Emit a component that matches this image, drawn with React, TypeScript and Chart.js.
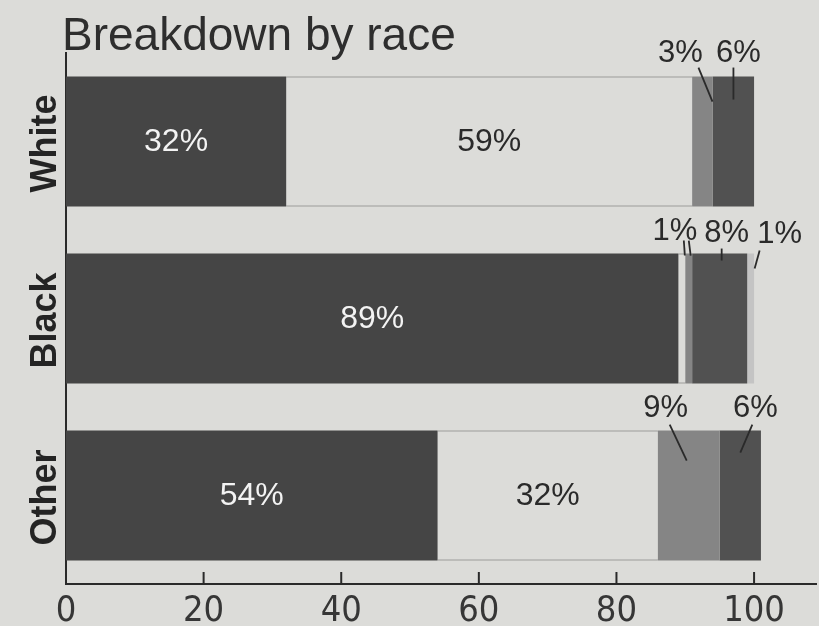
import React, { useEffect, useRef } from 'react';
import { Chart, registerables } from 'chart.js';

Chart.register(...registerables);

// ---- data ----
const chartTitle = 'Breakdown by race';
const categories = ['White', 'Black', 'Other'];
const seriesNames = ['Segment 1', 'Segment 2', 'Segment 3', 'Segment 4', 'Segment 5'];
const darkShare = [32, 89, 54];
const lightShare = [59, 1, 32];
const mediumShare = [3, 1, 9];
const mediumDarkShare = [6, 8, 6];
const endShare = [0, 1, 0];
const xTickValues = [0, 20, 40, 60, 80, 100];

// ---- styling / layout ----
const BG = '#dcdcd9';
const INK = '#2a2a2a';
const SANS = "'Liberation Sans', Arial, Helvetica, sans-serif";
const COND = "'DejaVu Sans Condensed', 'Liberation Sans Narrow', 'DejaVu Sans', sans-serif";
const seriesColors = ['#454545', BG, '#858585', '#515151', '#c4c4c4'];
const insideTextColor = ['#f3f3f3', '#2a2a2a', '#f3f3f3', '#f3f3f3', '#2a2a2a'];

// callouts for small segments: label offset from segment centre, and leader lines
type Line = { fromDx: number; fromDy: number; toDs: number; toDx: number; toDy: number };
type Callout = { ds: number; cat: number; dx: number; dy: number; lines: Line[] };
const callouts: Callout[] = [
  { ds: 2, cat: 0, dx: -22, dy: -23, lines: [{ fromDx: 18, fromDy: -9, toDs: 2, toDx: 10, toDy: 25 }] },
  { ds: 3, cat: 0, dx: 5, dy: -23, lines: [{ fromDx: -5, fromDy: -9, toDs: 3, toDx: 0, toDy: 23 }] },
  {
    ds: 1, cat: 1, dx: -7, dy: -22, lines: [
      { fromDx: 9, fromDy: -13, toDs: 1, toDx: 3, toDy: 2 },
      { fromDx: 14, fromDy: -13, toDs: 2, toDx: 2, toDy: 2 },
    ],
  },
  { ds: 3, cat: 1, dx: 7, dy: -20, lines: [{ fromDx: -5, fromDy: -5, toDs: 3, toDx: 2, toDy: 7 }] },
  { ds: 4, cat: 1, dx: 29, dy: -19, lines: [{ fromDx: -20, fromDy: -3, toDs: 4, toDx: 4, toDy: 15 }] },
  { ds: 2, cat: 2, dx: -23, dy: -22, lines: [{ fromDx: 4, fromDy: -6, toDs: 2, toDx: -2, toDy: 30 }] },
  { ds: 3, cat: 2, dx: 15, dy: -22, lines: [{ fromDx: -3, fromDy: -6, toDs: 3, toDx: 0, toDy: 22 }] },
];

const fmt = (v: number) => `${v}%`;

export default function App() {
  const ref = useRef<HTMLCanvasElement | null>(null);

  useEffect(() => {
    document.body.style.background = BG;
    const canvas = ref.current;
    if (!canvas) return;

    const seriesValues = [darkShare, lightShare, mediumShare, mediumDarkShare, endShare];

    const bgPlugin = {
      id: 'bg',
      beforeDraw(chart: any) {
        const { ctx, width, height } = chart;
        ctx.save();
        ctx.fillStyle = BG;
        ctx.fillRect(0, 0, width, height);
        ctx.restore();
      },
    };

    const segCenter = (chart: any, ds: number, cat: number) => {
      const el = chart.getDatasetMeta(ds).data[cat] as any;
      const h = el.height;
      return { cx: (el.x + el.base) / 2, top: el.y - h / 2, cy: el.y, w: Math.abs(el.x - el.base) };
    };

    const labelPlugin = {
      id: 'labels',
      afterDatasetsDraw(chart: any) {
        const { ctx } = chart;
        ctx.save();
        ctx.textAlign = 'center';
        ctx.textBaseline = 'middle';
        // inside labels for large segments
        ctx.font = `32px ${SANS}`;
        seriesValues.forEach((vals, ds) => {
          vals.forEach((v, cat) => {
            if (v >= 20) {
              const s = segCenter(chart, ds, cat);
              ctx.fillStyle = insideTextColor[ds];
              ctx.fillText(fmt(v), s.cx, s.cy + 1);
            }
          });
        });
        // callouts
        ctx.font = `31px ${SANS}`;
        callouts.forEach((c) => {
          const s = segCenter(chart, c.ds, c.cat);
          const lx = s.cx + c.dx;
          const ly = s.top + c.dy;
          ctx.fillStyle = INK;
          ctx.fillText(fmt(seriesValues[c.ds][c.cat]), lx, ly);
          ctx.strokeStyle = INK;
          ctx.lineWidth = 1.8;
          c.lines.forEach((l) => {
            const t = segCenter(chart, l.toDs, c.cat);
            ctx.beginPath();
            ctx.moveTo(lx + l.fromDx, s.top + l.fromDy);
            ctx.lineTo(t.cx + l.toDx, t.top + l.toDy);
            ctx.stroke();
          });
        });
        ctx.restore();
      },
      afterDraw(chart: any) {
        const { ctx, chartArea } = chart;
        const xs = chart.scales.x;
        const ys = chart.scales.y;
        ctx.save();
        // title
        ctx.fillStyle = '#2e2e2e';
        ctx.font = `46px ${SANS}`;
        ctx.textAlign = 'left';
        ctx.textBaseline = 'alphabetic';
        ctx.fillText(chartTitle, 62, 50);
        // rotated category labels
        ctx.font = `bold 36px ${SANS}`;
        ctx.fillStyle = '#242424';
        ctx.textAlign = 'center';
        ctx.textBaseline = 'middle';
        categories.forEach((c, i) => {
          const y = ys.getPixelForTick(i);
          ctx.save();
          ctx.translate(46, y + 2);
          ctx.rotate(-Math.PI / 2);
          ctx.fillText(c, 0, 0);
          ctx.restore();
        });
        // inward tick marks on x axis
        ctx.strokeStyle = INK;
        ctx.lineWidth = 2;
        xTickValues.forEach((v) => {
          if (v === 0) return;
          const x = xs.getPixelForValue(v);
          ctx.beginPath();
          ctx.moveTo(x, chartArea.bottom);
          ctx.lineTo(x, chartArea.bottom - 12);
          ctx.stroke();
        });
        ctx.restore();
      },
    };

    const chart = new Chart(canvas, {
      type: 'bar',
      data: {
        labels: categories,
        datasets: seriesValues.map((vals, i) => ({
          label: seriesNames[i],
          data: vals,
          backgroundColor: seriesColors[i],
          borderColor: i === 1 ? '#5e5e5e' : seriesColors[i],
          borderWidth: i === 1 ? { top: 1, bottom: 1, left: 0, right: 0 } : 0,
          borderSkipped: false,
          categoryPercentage: 1,
          barPercentage: 0.734,
        })),
      },
      options: {
        animation: false,
        responsive: true,
        maintainAspectRatio: false,
        indexAxis: 'y',
        layout: { padding: { top: 53, right: 3, left: 0, bottom: 0 } },
        plugins: {
          legend: { display: false },
          tooltip: { enabled: false },
          title: { display: false },
        },
        scales: {
          x: {
            stacked: true,
            min: 0,
            max: 109,
            grid: { display: false, drawTicks: false },
            border: { display: true, color: INK, width: 2 },
            ticks: {
              font: { family: COND, size: 36 },
              color: '#363636',
              padding: 6,
              maxRotation: 0,
              autoSkip: false,
            },
            afterBuildTicks: (s: any) => {
              s.ticks = xTickValues.map((v) => ({ value: v }));
            },
            afterFit: (s: any) => {
              s.height = 42;
            },
          },
          y: {
            stacked: true,
            grid: { display: false, drawTicks: false },
            border: { display: true, color: INK, width: 2 },
            ticks: { display: false },
            afterFit: (s: any) => {
              s.width = 66;
            },
          },
        },
      } as any,
      plugins: [bgPlugin, labelPlugin],
    });

    return () => chart.destroy();
  }, []);

  return (
    <div style={{ position: 'absolute', left: 0, top: 0, width: 819, height: 626, background: BG }}>
      <canvas ref={ref} />
    </div>
  );
}
